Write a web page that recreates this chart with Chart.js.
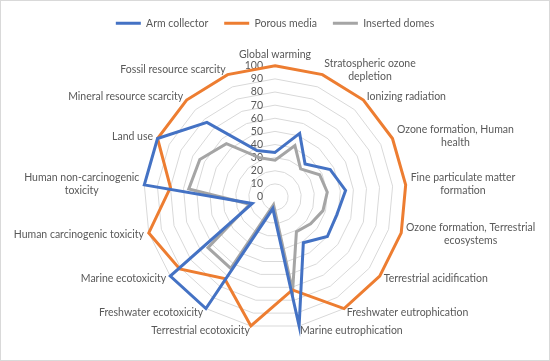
<!DOCTYPE html>
<html>
<head>
<meta charset="utf-8">
<script src="https://cdn.jsdelivr.net/npm/chart.js@4.4.0/dist/chart.umd.min.js"></script>
<style>
  html, body { margin: 0; padding: 0; background: #fff; }
  #wrap { width: 550px; height: 361px; box-sizing: border-box; border: 1px solid #d9d9d9; position: relative; }
</style>
</head>
<body>
<div id="wrap"><canvas id="chart"></canvas></div>
<script>
// categories (impact categories) and the three series
const categories = [
  "Global warming",
  ["Stratospheric ozone", "depletion"],
  "Ionizing radiation",
  ["Ozone formation, Human", "health"],
  ["Fine particulate matter", "formation"],
  ["Ozone formation, Terrestrial", "ecosystems"],
  "Terrestrial acidification",
  "Freshwater eutrophication",
  "Marine eutrophication",
  "Terrestrial ecotoxicity",
  "Freshwater ecotoxicity",
  "Marine ecotoxicity",
  "Human carcinogenic toxicity",
  ["Human non-carcinogenic", "toxicity"],
  "Land use",
  "Mineral resource scarcity",
  "Fossil resource scarcity",
];
const armCollector = [34, 52, 34, 47, 54, 49, 50, 41, 100, 9, 100, 100, 18, 100, 100, 77, 38];
const porousMedia = [100, 100, 100, 100, 100, 100, 100, 100, 72, 100, 73, 91, 100, 80, 100, 100, 100];
const insertedDomes = [28, 42, 29, 38, 40, 38, 34, 31, 73, 6, 64, 64, 20, 66, 64, 55, 32];
const tickValues = [0, 10, 20, 30, 40, 50, 60, 70, 80, 90, 100];

const FONT = "Lato";
const FONT_SIZE = 10.5;
const LINE_HEIGHT = 13.3;
const TEXT_COLOR = "#595959";

// tick labels sit left of the vertical axis; category labels are placed
// Excel style: just outside the outer ring, vertically centred on the spoke,
// lines centred inside their block
const labelPlugin = {
  id: "radarLabels",
  beforeDatasetsDraw(chart) {
    const scale = chart.scales.r;
    const ctx = chart.ctx;
    ctx.save();
    ctx.font = `${FONT_SIZE}px ${FONT}`;
    ctx.fillStyle = TEXT_COLOR;
    ctx.textAlign = "right";
    ctx.textBaseline = "middle";
    tickValues.forEach((v) => {
      const d = scale.getDistanceFromCenterForValue(v);
      ctx.fillText(String(v), scale.xCenter - 12, scale.yCenter - d);
    });

    ctx.textAlign = "center";
    const dist = scale.drawingArea + 5;
    categories.forEach((label, i) => {
      const p = scale.getPointPosition(i, dist);
      const lines = Array.isArray(label) ? label : [label];
      const w = Math.max(...lines.map((l) => ctx.measureText(l).width));
      const h = LINE_HEIGHT * lines.length;
      const dx = p.x - scale.xCenter;
      let cx, top;
      if (Math.abs(dx) < 1) {
        cx = p.x;
        top = p.y < scale.yCenter ? p.y - h : p.y;
      } else {
        cx = dx > 0 ? p.x + w / 2 : p.x - w / 2;
        top = p.y - h / 2;
      }
      lines.forEach((line, k) => {
        ctx.fillText(line, cx, top + LINE_HEIGHT * (k + 0.5));
      });
    });
    ctx.restore();
  },
};

const ctx = document.getElementById("chart");
new Chart(ctx, {
  type: "radar",
  data: {
    labels: categories,
    datasets: [
      {
        label: "Arm collector",
        data: armCollector,
        borderColor: "#4472C4",
        backgroundColor: "#4472C4",
        borderWidth: 3,
        fill: false,
        pointRadius: 0,
        pointStyle: "line",
      },
      {
        label: "Porous media",
        data: porousMedia,
        borderColor: "#ED7D31",
        backgroundColor: "#ED7D31",
        borderWidth: 3,
        fill: false,
        pointRadius: 0,
        pointStyle: "line",
      },
      {
        label: "Inserted domes",
        data: insertedDomes,
        borderColor: "#A5A5A5",
        backgroundColor: "#A5A5A5",
        borderWidth: 3,
        fill: false,
        pointRadius: 0,
        pointStyle: "line",
      },
    ],
  },
  options: {
    responsive: true,
    maintainAspectRatio: false,
    animation: false,
    layout: {
      padding: { top: 1, bottom: 10 },
    },
    scales: {
      r: {
        min: 0,
        max: 100,
        ticks: {
          stepSize: 10,
          display: false,
        },
        grid: {
          color: "#d9d9d9",
          lineWidth: 1,
        },
        angleLines: {
          display: false,
        },
        pointLabels: {
          color: "rgba(0,0,0,0)", // only used for layout, drawn by labelPlugin
          padding: 7,
          font: {
            family: FONT,
            size: FONT_SIZE,
            lineHeight: LINE_HEIGHT / FONT_SIZE,
          },
        },
      },
    },
    plugins: {
      legend: {
        position: "top",
        labels: {
          usePointStyle: true,
          pointStyleWidth: 25,
          color: TEXT_COLOR,
          padding: 16,
          font: {
            family: FONT,
            size: 10.5,
          },
        },
      },
      tooltip: {
        enabled: false,
      },
    },
  },
  plugins: [labelPlugin],
});
</script>
</body>
</html>
